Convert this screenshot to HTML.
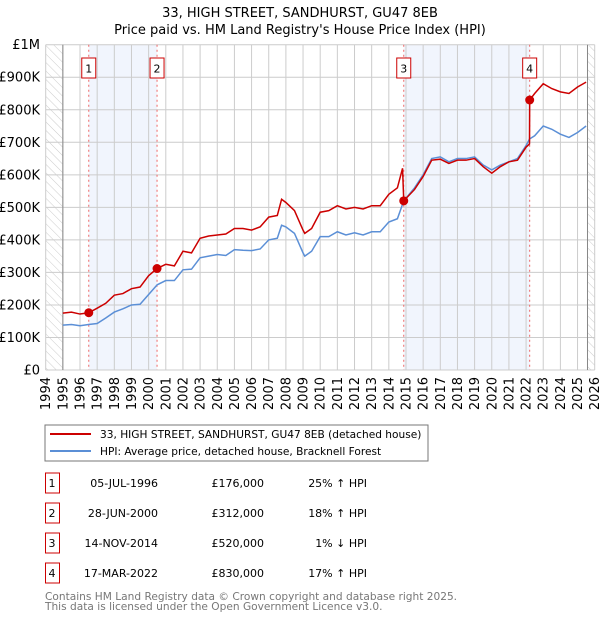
<!DOCTYPE html>
<html><head><meta charset="utf-8"><style>
body{margin:0;background:#fff;width:600px;height:620px;overflow:hidden}
svg{font-family:"DejaVu Sans","Liberation Sans",sans-serif}
</style></head><body>
<svg id="c" width="600" height="620" xmlns="http://www.w3.org/2000/svg">
<defs><pattern id="hatch" width="6" height="6" patternUnits="userSpaceOnUse" patternTransform="rotate(-45)"><line x1="0" y1="0" x2="0" y2="6" stroke="#ccc" stroke-width="1"/></pattern></defs>
<text x="300" y="17" text-anchor="middle" font-size="13">33, HIGH STREET, SANDHURST, GU47 8EB</text>
<text x="300" y="34" text-anchor="middle" font-size="13">Price paid vs. HM Land Registry's House Price Index (HPI)</text>
<g id="plot"></g>
<rect x="45" y="425" width="383" height="36" fill="#fff" stroke="#777"/>
<line x1="50" y1="434" x2="91" y2="434" stroke="#cc0000" stroke-width="2"/>
<text x="100" y="438" font-size="10.6">33, HIGH STREET, SANDHURST, GU47 8EB (detached house)</text>
<line x1="50" y1="451" x2="91" y2="451" stroke="#5b8fd6" stroke-width="2"/>
<text x="100" y="455" font-size="10.6">HPI: Average price, detached house, Bracknell Forest</text>
<g id="table" font-size="11"></g>
<text x="45" y="600" font-size="10.6" fill="#777">Contains HM Land Registry data © Crown copyright and database right 2025.</text>
<text x="45" y="610" font-size="10.6" fill="#777">This data is licensed under the Open Government Licence v3.0.</text>
</svg>
<script>
const hpiYears=[1995,1995.5,1996,1996.5,1997,1997.5,1998,1998.5,1999,1999.5,2000,2000.5,2001,2001.5,2002,2002.5,2003,2003.5,2004,2004.5,2005,2005.5,2006,2006.5,2007,2007.5,2007.75,2008,2008.5,2009,2009.1,2009.5,2010,2010.5,2011,2011.5,2012,2012.5,2013,2013.5,2014,2014.5,2014.87,2015.5,2016,2016.5,2017,2017.5,2018,2018.5,2019,2019.5,2020,2020.5,2021,2021.5,2022,2022.2,2022.5,2023,2023.5,2024,2024.5,2025,2025.5];
const hpiValues=[138,140,136,140,143,160,178,188,200,202,232,262,275,275,308,310,345,350,355,352,370,368,367,372,400,405,445,440,420,360,350,365,410,410,425,415,422,415,425,425,455,465,520,560,600,650,655,640,650,650,655,630,615,630,640,650,690,710,720,750,740,725,715,730,750];
const redYears=[1995,1995.5,1996,1996.51,1997,1997.5,1998,1998.5,1999,1999.5,2000,2000.49,2001,2001.5,2002,2002.5,2003,2003.5,2004,2004.5,2005,2005.5,2006,2006.5,2007,2007.5,2007.75,2008,2008.5,2009,2009.1,2009.5,2010,2010.5,2011,2011.5,2012,2012.5,2013,2013.5,2014,2014.5,2014.8,2014.87,2015.5,2016,2016.5,2017,2017.5,2018,2018.5,2019,2019.5,2020,2020.5,2021,2021.5,2022,2022.2,2022.21,2022.5,2023,2023.5,2024,2024.5,2025,2025.5];
const redValues=[175,178,172,176,190,205,230,235,250,255,290,312,325,320,365,360,405,412,415,418,435,435,430,440,470,475,525,515,490,430,420,435,485,490,505,495,500,495,505,505,540,560,620,520,555,595,645,648,635,645,645,650,625,605,625,640,645,685,695,830,850,880,865,855,850,870,885];
const saleYears=[1996.51,2000.49,2014.87,2022.21];
const saleValues=[176,312,520,830];
const saleLabels=["1","2","3","4"];
const saleDates=["05-JUL-1996","28-JUN-2000","14-NOV-2014","17-MAR-2022"];
const salePrices=["£176,000","£312,000","£520,000","£830,000"];
const saleHpi=["25% ↑ HPI","18% ↑ HPI","1% ↓ HPI","17% ↑ HPI"];
const yTicks=[0,100,200,300,400,500,600,700,800,900,1000];
const yTickLabels=["£0","£100K","£200K","£300K","£400K","£500K","£600K","£700K","£800K","£900K","£1M"];
const X0=45.7,X1=594.7,Y0=370,Y1=44.7;
const x=yr=>X0+(yr-1994)*(X1-X0)/32;
const y=v=>Y0-v*(Y0-Y1)/1000;
const NS="http://www.w3.org/2000/svg";
const plot=document.getElementById('plot');
function mk(tag,attrs,parent){const e=document.createElementNS(NS,tag);for(const k in attrs)e.setAttribute(k,attrs[k]);(parent||plot).appendChild(e);return e;}
for(let i=0;i<4;i+=2){const r=mk('rect',{x:x(saleYears[i]),y:Y1,width:x(saleYears[i+1])-x(saleYears[i]),height:Y0-Y1,fill:'#eef3fc',opacity:0.8});

}
let h=mk('rect',{x:X0,y:Y1,width:x(1995)-X0,height:Y0-Y1,fill:'url(#hatch)'});


h=mk('rect',{x:x(2025.58),y:Y1,width:X1-x(2025.58),height:Y0-Y1,fill:'url(#hatch)'});


for(let yr=1994;yr<=2026;yr++){const l=mk('line',{x1:x(yr),x2:x(yr),y1:Y1,y2:Y0,stroke:'#ccc','stroke-width':1});


const t=mk('text',{x:0,y:0,'font-size':13,'text-anchor':'end',transform:`translate(${x(yr)+4.5},377) rotate(-90)`});
t.textContent=yr;

}
yTicks.forEach((v,i)=>{const l=mk('line',{x1:X0,x2:X1,y1:y(v),y2:y(v),stroke:'#ccc','stroke-width':1});


const t=mk('text',{x:40,y:y(v)+4.5,'font-size':13,'text-anchor':'end'});
t.textContent=yTickLabels[i];

});
let ax=mk('line',{x1:x(1995),x2:x(1995),y1:Y1,y2:Y0,stroke:'#888'});


ax=mk('line',{x1:x(2025.58),x2:x(2025.58),y1:Y1,y2:Y0,stroke:'#888'});


saleYears.forEach((s,i)=>{const l=mk('line',{x1:x(s),x2:x(s),y1:Y1,y2:Y0,stroke:'#ee6666','stroke-dasharray':'2,3'});


const b=mk('rect',{x:x(s)-7,y:58,width:14,height:20,fill:'#fff',stroke:'#cc0000'});


const t=mk('text',{x:x(s),y:72.5,'font-size':11,'text-anchor':'middle'});
t.textContent=saleLabels[i];

});
const hp=mk('polyline',{points:hpiYears.map((yr,i)=>x(yr)+','+y(hpiValues[i])).join(' '),fill:'none',stroke:'#5b8fd6','stroke-width':1.5});


const rp=mk('polyline',{points:redYears.map((yr,i)=>x(yr)+','+y(redValues[i])).join(' '),fill:'none',stroke:'#cc0000','stroke-width':1.5});


saleYears.forEach((s,i)=>{const c=mk('circle',{cx:x(s),cy:y(saleValues[i]),r:4.5,fill:'#cc0000'});

});
const tb=document.getElementById('table');
saleYears.forEach((s,i)=>{const cy=483+i*30;
const b=mk('rect',{x:45.5,y:cy-10,width:14,height:20,fill:'#fff',stroke:'#cc0000'},tb);


const cells=[[52,'middle',saleLabels[i],'table-row-number'],[158,'end',saleDates[i],'sale-date'],[264,'end',salePrices[i],'sale-price'],[367,'end',saleHpi[i],'sale-hpi-diff']];
cells.forEach(c=>{const t=mk('text',{x:c[0],y:cy+4,'text-anchor':c[1]},tb);t.textContent=c[2];

});});
</script>
</body></html>
